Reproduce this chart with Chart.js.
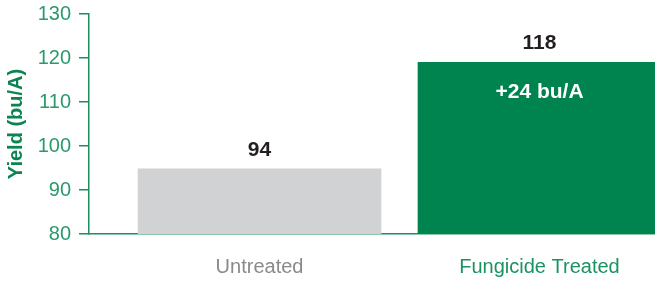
<!DOCTYPE html>
<html>
<head>
<meta charset="utf-8">
<script src="https://cdn.jsdelivr.net/npm/chart.js@4/dist/chart.umd.min.js"></script>
<style>
  html, body { margin: 0; padding: 0; background: #fff; }
  #wrap { width: 655px; height: 282px; position: relative; }
</style>
</head>
<body>
<div id="wrap"><canvas id="chart" width="655" height="282"></canvas></div>
<script>
'use strict';
// data
var categories = ['Untreated', 'Fungicide Treated'];
var yields = [94.8, 119];          // bar heights as drawn
var valueLabels = ['94', '118'];   // printed above the bars
var gainLabel = '+24 bu/A';
var yTicks = [80, 90, 100, 110, 120, 130];

var barColors = ['#d1d2d4', '#00844f'];
var labelColors = ['#8a8a8a', '#1a9262'];
var axisGreen = '#1c8f5f';
var font = "'Liberation Sans', Arial, Helvetica, sans-serif";

var points = [];
for (var i = 0; i < yields.length; i++) {
  points.push({ x: i, y: yields[i] });
}

var barText = {
  id: 'barText',
  afterDatasetsDraw: function (chart) {
    var ctx = chart.ctx;
    var meta = chart.getDatasetMeta(0);
    ctx.save();
    ctx.textAlign = 'center';
    ctx.textBaseline = 'middle';
    ctx.font = 'bold 21px ' + font;
    for (var i = 0; i < meta.data.length; i++) {
      var bar = meta.data[i];
      ctx.fillStyle = '#231f20';
      ctx.fillText(valueLabels[i], bar.x, bar.y - 19);
    }
    var last = meta.data[meta.data.length - 1];
    ctx.fillStyle = '#ffffff';
    ctx.fillText(gainLabel, last.x, last.y + 30);
    ctx.restore();
  }
};

new Chart(document.getElementById('chart').getContext('2d'), {
  type: 'bar',
  data: {
    datasets: [{
      data: points,
      backgroundColor: barColors,
      barThickness: 243,
      borderWidth: 0
    }]
  },
  options: {
    responsive: false,
    animation: false,
    layout: { padding: { top: 14, right: 0, bottom: 0, left: 0 } },
    plugins: {
      legend: { display: false },
      tooltip: { enabled: false }
    },
    scales: {
      x: {
        type: 'linear',
        offset: false,
        min: -0.609,
        max: 1.4125,
        afterFit: function (scale) {
          scale.height = 48;
          scale.paddingLeft = 0;
          scale.paddingRight = 0;
        },
        afterBuildTicks: function (scale) {
          scale.ticks = categories.map(function (c, i) { return { value: i }; });
        },
        grid: { display: false, drawTicks: false, offset: false },
        border: { display: true, color: axisGreen, width: 1.5 },
        ticks: {
          padding: 21,
          autoSkip: false,
          maxRotation: 0,
          font: { family: font, size: 20 },
          color: function (c) { return labelColors[c.index] || '#888'; },
          callback: function (v) { return categories[v] || ''; }
        }
      },
      y: {
        min: 80,
        max: 130,
        afterFit: function (scale) {
          scale.width = 89;
          scale.paddingTop = 0;
          scale.paddingBottom = 0;
        },
        afterBuildTicks: function (scale) {
          scale.ticks = yTicks.map(function (v) { return { value: v }; });
        },
        grid: { drawOnChartArea: false, color: axisGreen, tickLength: 10, lineWidth: 1.5 },
        border: { display: true, color: axisGreen, width: 1.5 },
        ticks: {
          padding: 8,
          font: { family: font, size: 20 },
          color: '#2a9a6c'
        },
        title: {
          display: true,
          text: 'Yield (bu/A)',
          color: '#0b8450',
          padding: { top: 4, bottom: 0 },
          font: { family: font, size: 20, weight: 'bold' }
        }
      }
    }
  },
  plugins: [barText]
});
</script>
</body>
</html>
